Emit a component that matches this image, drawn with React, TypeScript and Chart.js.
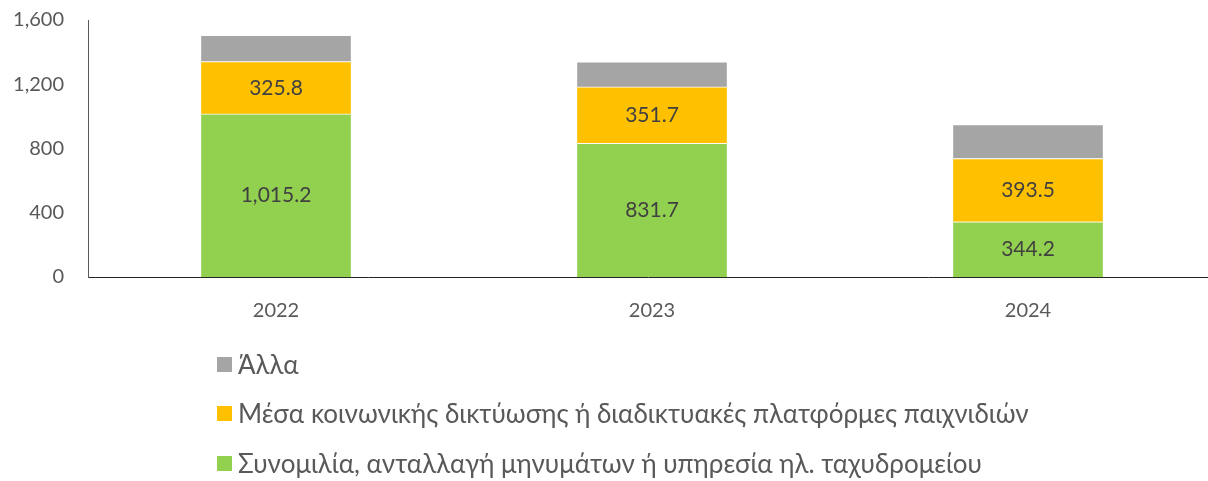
import React, { useEffect, useRef } from "react";
import { Chart, registerables } from "chart.js";

Chart.register(...registerables);

const categories = ["2022", "2023", "2024"];
const chatValues = [1015.2, 831.7, 344.2];
const socialValues = [325.8, 351.7, 393.5];
const otherValues = [163.5, 156.8, 210.6];
const yTicks = [0, 400, 800, 1200, 1600];

const seriesNames = [
  "Συνομιλία, ανταλλαγή μηνυμάτων ή υπηρεσία ηλ. ταχυδρομείου",
  "Μέσα κοινωνικής δικτύωσης ή διαδικτυακές πλατφόρμες παιχνιδιών",
  "Άλλα",
];
const seriesColors = ["#92D050", "#FFC000", "#A5A5A5"];
const labeledSeries = [0, 1];

const FONT = "Lato, 'Open Sans', sans-serif";

const fmt = (v: number) =>
  v.toLocaleString("en-US", { minimumFractionDigits: 1, maximumFractionDigits: 1 });

const valueLabels = {
  id: "valueLabels",
  afterDatasetsDraw(chart: any) {
    const ctx = chart.ctx;
    ctx.save();
    ctx.font = `21px ${FONT}`;
    ctx.fillStyle = "#404040";
    ctx.textAlign = "center";
    ctx.textBaseline = "middle";
    labeledSeries.forEach((di) => {
      const meta = chart.getDatasetMeta(di);
      meta.data.forEach((el: any, i: number) => {
        const v = chart.data.datasets[di].data[i].y;
        const cy = (el.y + el.base) / 2;
        ctx.fillText(fmt(v), el.x, cy);
      });
    });
    ctx.restore();
  },
};

export default function App() {
  const ref = useRef<HTMLCanvasElement | null>(null);

  useEffect(() => {
    document.body.style.margin = "0";
    const values = [chatValues, socialValues, otherValues];
    const chart = new Chart(ref.current as HTMLCanvasElement, {
      type: "bar",
      data: {
        datasets: values.map((vals, si) => ({
          label: seriesNames[si],
          data: vals.map((v, i) => ({ x: i, y: v })),
          backgroundColor: seriesColors[si],
          borderColor: "rgba(255,255,255,0.9)",
          borderWidth: 1,
          barThickness: 151,
        })),
      },
      options: {
        responsive: false,
        animation: false,
        layout: { padding: { top: 20, right: 0, bottom: 154, left: 0 } },
        plugins: { legend: { display: false }, tooltip: { enabled: false } },
        scales: {
          x: {
            type: "linear",
            stacked: true,
            offset: false,
            min: -0.5,
            max: -0.5 + 1120 / 376,
            afterBuildTicks: (scale: any) => {
              scale.ticks = categories.map((_, i) => ({ value: i }));
            },
            afterFit: (scale: any) => {
              scale.height = 50;
              scale.paddingTop = 0;
              scale.paddingBottom = 0;
            },
            ticks: {
              callback: (v: any) => categories[v] ?? "",
              color: "#595959",
              font: { family: FONT, size: 20 },
              padding: 22,
              maxRotation: 0,
              autoSkip: false,
            },
            grid: { display: false, drawTicks: false },
            border: { display: true, color: "#262626", width: 1 },
          },
          y: {
            stacked: true,
            min: 0,
            max: 1600,
            afterBuildTicks: (scale: any) => {
              scale.ticks = yTicks.map((v) => ({ value: v }));
            },
            afterFit: (scale: any) => {
              scale.width = 88;
              scale.paddingTop = 0;
              scale.paddingBottom = 0;
            },
            ticks: {
              callback: (v: any) => Number(v).toLocaleString("en-US"),
              color: "#595959",
              font: { family: FONT, size: 20 },
              padding: 24,
            },
            grid: { display: false, drawTicks: false },
            border: { display: true, color: "#595959", width: 1 },
          },
        },
      },
      plugins: [valueLabels],
    });
    return () => chart.destroy();
  }, []);

  const legendOrder = [2, 1, 0];
  const legendY = [364, 413, 463];

  return (
    <div style={{ position: "relative", width: 1208, height: 481, background: "#fff", overflow: "hidden" }}>
      <canvas ref={ref} width={1208} height={481} style={{ position: "absolute", left: 0, top: 0 }} />
      {legendOrder.map((si, k) => (
        <div
          key={si}
          style={{
            position: "absolute",
            left: 217,
            top: legendY[k] - 16,
            height: 32,
            display: "flex",
            alignItems: "center",
            fontFamily: FONT,
            fontSize: 26,
            color: "#595959",
            whiteSpace: "nowrap",
          }}
        >
          <span
            style={{
              display: "inline-block",
              width: 15,
              height: 15,
              background: seriesColors[si],
              marginRight: 6,
            }}
          />
          <span>{seriesNames[si]}</span>
        </div>
      ))}
    </div>
  );
}
